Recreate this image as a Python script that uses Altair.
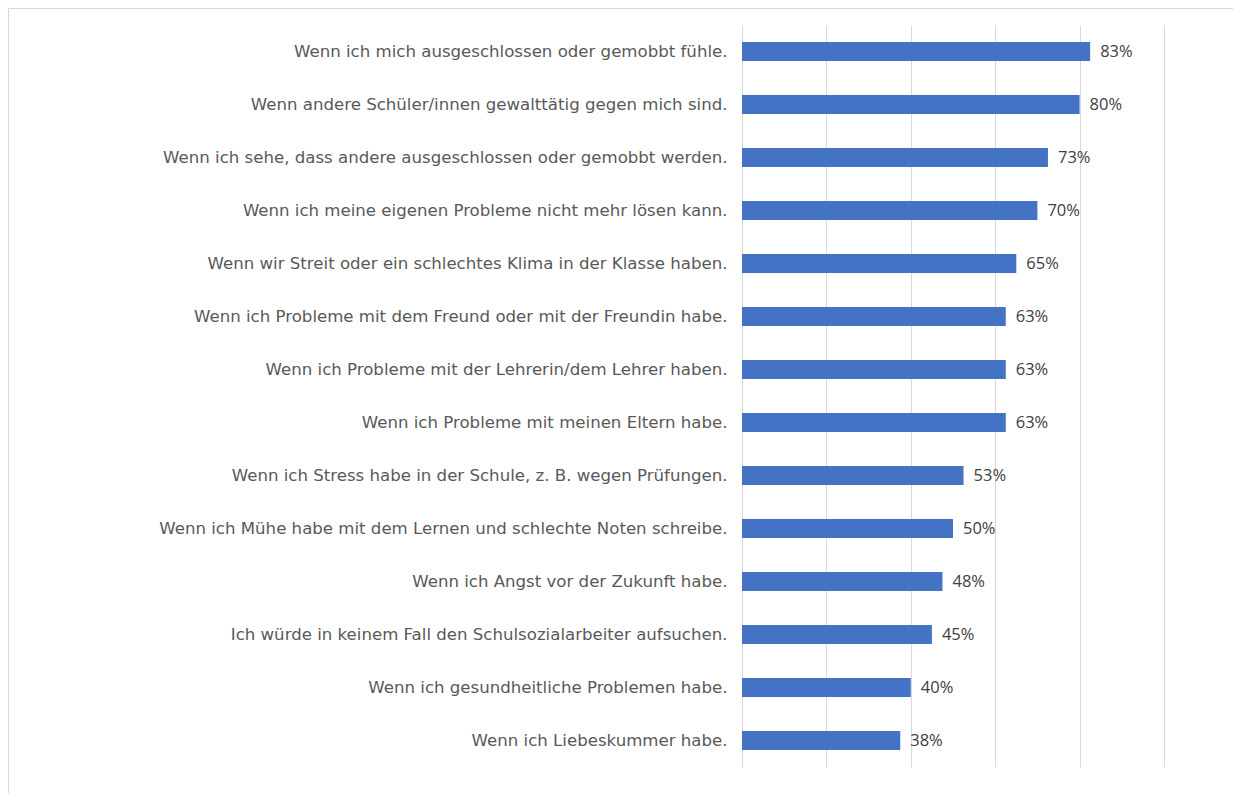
import altair as alt
import pandas as pd

categories = [
    "Wenn ich mich ausgeschlossen oder gemobbt fühle.",
    "Wenn andere Schüler/innen gewalttätig gegen mich sind.",
    "Wenn ich sehe, dass andere ausgeschlossen oder gemobbt werden.",
    "Wenn ich meine eigenen Probleme nicht mehr lösen kann.",
    "Wenn wir Streit oder ein schlechtes Klima in der Klasse haben.",
    "Wenn ich Probleme mit dem Freund oder mit der Freundin habe.",
    "Wenn ich Probleme mit der Lehrerin/dem Lehrer haben.",
    "Wenn ich Probleme mit meinen Eltern habe.",
    "Wenn ich Stress habe in der Schule, z. B. wegen Prüfungen.",
    "Wenn ich Mühe habe mit dem Lernen und schlechte Noten schreibe.",
    "Wenn ich Angst vor der Zukunft habe.",
    "Ich würde in keinem Fall den Schulsozialarbeiter aufsuchen.",
    "Wenn ich gesundheitliche Problemen habe.",
    "Wenn ich Liebeskummer habe.",
]
values = [82.5, 80, 72.5, 70, 65, 62.5, 62.5, 62.5, 52.5, 50, 47.5, 45, 40, 37.5]
labels = ["83%", "80%", "73%", "70%", "65%", "63%", "63%", "63%", "53%", "50%", "48%", "45%", "40%", "38%"]

df = pd.DataFrame({"cat": categories, "value": values, "label": labels})

W, H = 422, 742
PAD_L, PAD_T, PAD_R, PAD_B = 734, 17, 69, 26

y_enc = alt.Y(
    "cat:N",
    sort=categories,
    scale=alt.Scale(paddingInner=0.64, paddingOuter=0.32),
    axis=alt.Axis(
        title=None, ticks=False, domain=False, grid=False,
        labelFont="DejaVu Sans", labelFontSize=16.6, labelColor="#595959",
        labelPadding=15, labelLimit=720,
    ),
)
x_enc = alt.X(
    "value:Q",
    scale=alt.Scale(domain=[0, 100], nice=False),
    axis=alt.Axis(
        title=None, labels=False, ticks=False, domain=False,
        grid=True, gridColor="#d9d9d9", gridWidth=1, values=[0, 20, 40, 60, 80, 100],
    ),
)

bars = alt.Chart(df).mark_bar(color="#4472C4").encode(x=x_enc, y=y_enc)

text = alt.Chart(df).mark_text(
    align="left", baseline="middle", dx=10, font="Open Sans", fontSize=16.5, color="#404040"
).encode(x="value:Q", y=alt.Y("cat:N", sort=categories), text="label:N")

frame = alt.Chart(alt.Data(values=[{}])).mark_rect(
    fill=None, stroke="#d9d9d9", strokeWidth=1
).encode(
    x=alt.value(-PAD_L + 0.5), x2=alt.value(W + PAD_R + 20),
    y=alt.value(-PAD_T + 0.5), y2=alt.value(H + PAD_B + 20),
)

chart = alt.layer(frame, bars, text).properties(
    width=W, height=H,
    background="white",
    autosize=alt.AutoSizeParams(type="none"),
    padding={"left": PAD_L, "top": PAD_T, "right": PAD_R, "bottom": PAD_B},
).configure_view(stroke=None)

chart.save("out.html", embed_options={"renderer": "svg", "actions": False})
